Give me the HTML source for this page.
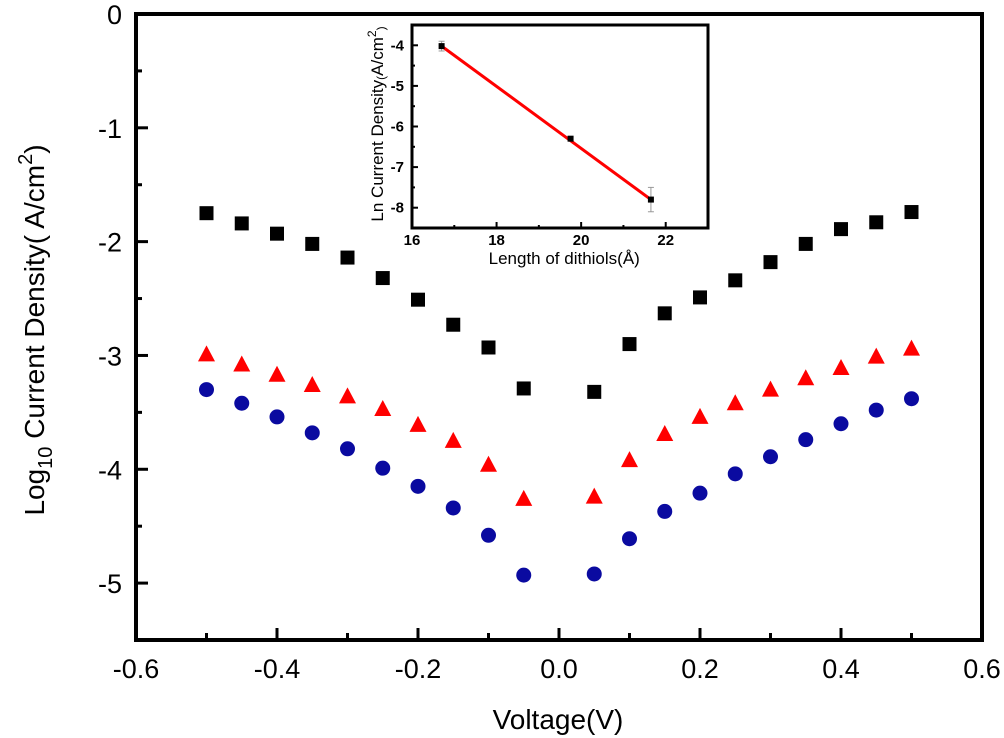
<!DOCTYPE html>
<html><head><meta charset="utf-8"><style>
body{margin:0;background:#fff}
svg{display:block;font-family:"Liberation Sans",Arial,sans-serif}
</style></head><body>
<svg id="chart" width="1004" height="738" viewBox="0 0 1004 738" xmlns="http://www.w3.org/2000/svg">
<g id="main"></g>
<g id="inset"></g>
</svg>
<script>
const voltages=[-0.5,-0.45,-0.4,-0.35,-0.3,-0.25,-0.2,-0.15,-0.1,-0.05,0.05,0.1,0.15,0.2,0.25,0.3,0.35,0.4,0.45,0.5];
const blackSquares=[-1.75,-1.84,-1.93,-2.02,-2.14,-2.32,-2.51,-2.73,-2.93,-3.29,-3.32,-2.90,-2.63,-2.49,-2.34,-2.18,-2.02,-1.89,-1.83,-1.74];
const redTriangles=[-2.99,-3.08,-3.17,-3.26,-3.36,-3.47,-3.61,-3.75,-3.96,-4.26,-4.24,-3.92,-3.69,-3.54,-3.42,-3.30,-3.20,-3.11,-3.01,-2.94];
const blueCircles=[-3.30,-3.42,-3.54,-3.68,-3.82,-3.99,-4.15,-4.34,-4.58,-4.93,-4.92,-4.61,-4.37,-4.21,-4.04,-3.89,-3.74,-3.60,-3.48,-3.38];
const xTicks=[-0.6,-0.4,-0.2,0.0,0.2,0.4,0.6];
const yTicks=[0,-1,-2,-3,-4,-5];
const insetLength=[16.7,19.75,21.65];
const insetLn=[-4.02,-6.3,-7.8];
const insetErr=[0.12,0.04,0.3];
const insetXTicks=[16,18,20,22];
const insetYTicks=[-4,-5,-6,-7,-8];

const NS="http://www.w3.org/2000/svg";
function mk(p,t,a,txt){const e=document.createElementNS(NS,t);for(const k in a)e.setAttribute(k,a[k]);if(txt!==undefined)e.textContent=txt;p.appendChild(e);return e;}
const L=136,R=982,T=14,B=640;
const X=v=>L+(v+0.6)/1.2*(R-L);
const Y=v=>T+(0-v)/5.5*(B-T);
const g=document.getElementById('main');
for(let i=0;i<=12;i++){const v=-0.6+i*0.1;const major=i%2===0;
 const t=mk(g,'line',{x1:X(v),x2:X(v),y1:B,y2:B-(major?12:7),stroke:'#000','stroke-width':3});
 
 }
xTicks.forEach(v=>{const t=mk(g,'text',{x:X(v),y:B+38,'text-anchor':'middle','font-size':27},v.toFixed(1));
 
 });
for(let i=0;i<=11;i++){const v=-i*0.5;const major=i%2===0;
 const t=mk(g,'line',{x1:L,x2:L+(major?12:6),y1:Y(v),y2:Y(v),stroke:'#000','stroke-width':3});
 
 }
yTicks.forEach(v=>{const t=mk(g,'text',{x:L-14,y:Y(v)+10,'text-anchor':'end','font-size':27},String(v));
 
 });
const box=mk(g,'rect',{x:L,y:T,width:R-L,height:B-T,fill:'none',stroke:'#000','stroke-width':4});


const xt=mk(g,'text',{x:558,y:729,'text-anchor':'middle','font-size':28},'Voltage(V)');


const yt=mk(g,'text',{transform:'translate(44,330) rotate(-90)','text-anchor':'middle','font-size':28});


yt.innerHTML='Log<tspan font-size="20" dy="8">10</tspan><tspan dy="-8"> Current Density( A/cm</tspan><tspan font-size="20" dy="-12">2</tspan><tspan dy="12">)</tspan>';
voltages.forEach((v,i)=>{
 const s=mk(g,'rect',{x:X(v)-7,y:Y(blackSquares[i])-7,width:14,height:14,fill:'#000'});
 
 
 const cx=X(v),cy=Y(redTriangles[i]);
 const tr=mk(g,'polygon',{points:`${cx},${cy-9} ${cx-8.5},${cy+7} ${cx+8.5},${cy+7}`,fill:'#f00'});
 
 
 const c=mk(g,'circle',{cx:X(v),cy:Y(blueCircles[i]),r:7.5,fill:'#0a0aa0'});
 
 
});
const gi=document.getElementById('inset');
const iL=412,iR=708,iT=25,iB=228;
const IX=v=>iL+(v-16)/7*(iR-iL);
const IY=v=>iT+(-3.5-v)/5*(iB-iT);
const bg=mk(gi,'rect',{x:iL,y:iT,width:iR-iL,height:iB-iT,fill:'#fff'});


for(let v=16;v<=23;v++){const t=mk(gi,'line',{x1:IX(v),x2:IX(v),y1:iB,y2:iB-(v%2===0?6:3),stroke:'#000','stroke-width':2});
 
 }
insetXTicks.forEach(v=>{const t=mk(gi,'text',{x:IX(v),y:iB+17,'text-anchor':'middle','font-size':15,'font-weight':'bold'},String(v));
 
 });
for(let v=-4;v>=-8.5;v-=0.5){const t=mk(gi,'line',{x1:iL,x2:iL+(Number.isInteger(v)?6:3),y1:IY(v),y2:IY(v),stroke:'#000','stroke-width':2});
 
 }
insetYTicks.forEach(v=>{const t=mk(gi,'text',{x:iL-8,y:IY(v)+5,'text-anchor':'end','font-size':15,'font-weight':'bold'},String(v));
 
 });
insetLength.forEach((v,i)=>{
 const e=mk(gi,'line',{x1:IX(v),x2:IX(v),y1:IY(insetLn[i]+insetErr[i]),y2:IY(insetLn[i]-insetErr[i]),stroke:'#999','stroke-width':1});
 
 
 [insetErr[i],-insetErr[i]].forEach(d=>{const c=mk(gi,'line',{x1:IX(v)-3,x2:IX(v)+3,y1:IY(insetLn[i]+d),y2:IY(insetLn[i]+d),stroke:'#999','stroke-width':1});
 
 });
});
const fit=mk(gi,'line',{x1:IX(insetLength[0]),y1:IY(insetLn[0]),x2:IX(insetLength[2]),y2:IY(insetLn[2]),stroke:'#f00','stroke-width':3});


insetLength.forEach((v,i)=>{const s=mk(gi,'rect',{x:IX(v)-3,y:IY(insetLn[i])-3,width:6,height:6,fill:'#000'});
 
 });
const ib=mk(gi,'rect',{x:iL,y:iT,width:iR-iL,height:iB-iT,fill:'none',stroke:'#000','stroke-width':3});


const ixt=mk(gi,'text',{x:IX(19.6),y:264,'text-anchor':'middle','font-size':17},'Length of dithiols(Å)');


const iyt=mk(gi,'text',{transform:'translate(383,124) rotate(-90)','text-anchor':'middle','font-size':17});


iyt.innerHTML='Ln Current Density<tspan font-size="12" dy="2">(</tspan><tspan dy="-2">A/cm</tspan><tspan font-size="12" dy="-7">2</tspan><tspan font-size="12" dy="9">)</tspan>';
</script>
</body></html>
